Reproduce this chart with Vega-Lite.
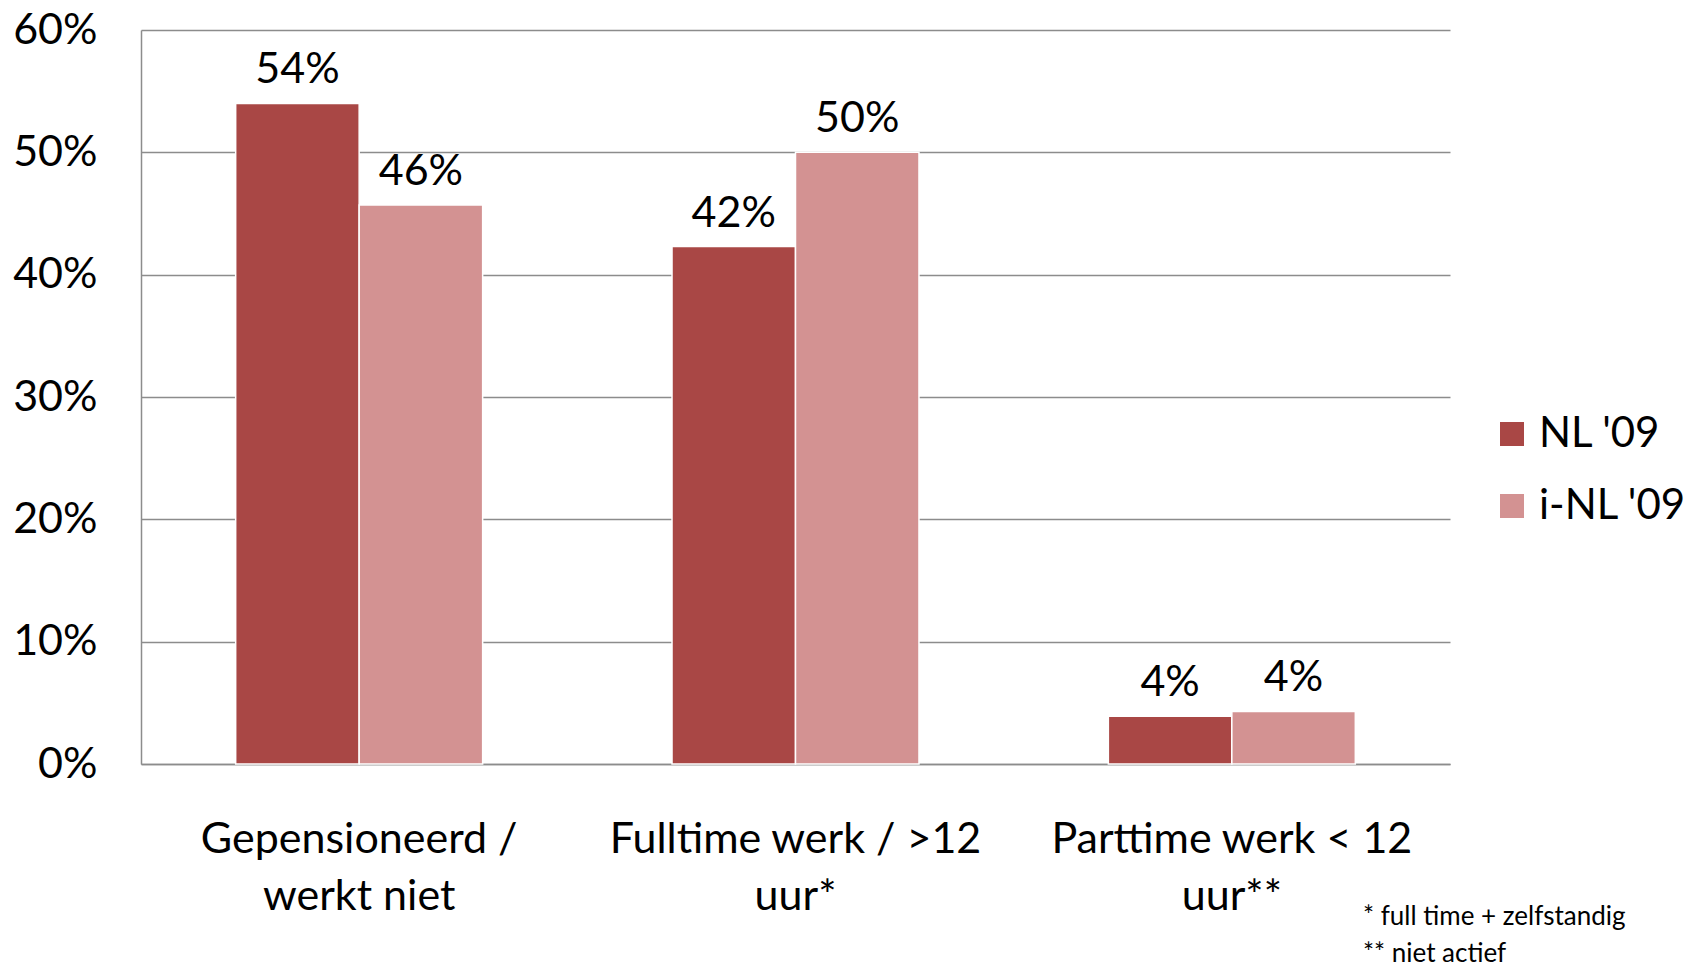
{
  "$schema": "https://vega.github.io/schema/vega-lite/v6.json",
  "autosize": {"type": "none"},
  "width": 1309,
  "height": 734,
  "padding": {"left": 141, "top": 30, "right": 237, "bottom": 203},
  "background": "white",
  "config": {
    "view": {"stroke": null},
    "font": "Lato",
    "text": {"font": "Lato"}
  },
  "title": {
    "text": ["* full time + zelfstandig", "** niet actief"],
    "orient": "bottom",
    "anchor": "start",
    "align": "left",
    "frame": "group",
    "dx": 1222,
    "offset": -14,
    "font": "Lato",
    "fontSize": 26,
    "fontWeight": "normal",
    "lineHeight": 37,
    "color": "black"
  },
  "data": {
    "values": [
      {"cat": "Gepensioneerd /|werkt niet", "serie": "NL '09", "value": 54.0, "label": "54%"},
      {"cat": "Gepensioneerd /|werkt niet", "serie": "i-NL '09", "value": 45.7, "label": "46%"},
      {"cat": "Fulltime werk / >12|uur*", "serie": "NL '09", "value": 42.3, "label": "42%"},
      {"cat": "Fulltime werk / >12|uur*", "serie": "i-NL '09", "value": 50.0, "label": "50%"},
      {"cat": "Parttime werk < 12|uur**", "serie": "NL '09", "value": 3.9, "label": "4%"},
      {"cat": "Parttime werk < 12|uur**", "serie": "i-NL '09", "value": 4.3, "label": "4%"}
    ]
  },
  "encoding": {
    "x": {
      "field": "cat",
      "type": "nominal",
      "sort": null,
      "scale": {"paddingInner": 0.434, "paddingOuter": 0.217},
      "axis": {
        "title": null,
        "labelAngle": 0,
        "labelExpr": "split(datum.label, '|')",
        "labelLimit": 0,
        "labelFont": "Lato",
        "labelFontSize": 43,
        "labelColor": "black",
        "labelPadding": 75,
        "labelLineHeight": 57,
        "labelBaseline": "middle",
        "ticks": false,
        "domainColor": "#8c8c8c",
        "domainWidth": 1.5,
        "grid": false
      }
    },
    "xOffset": {"field": "serie", "type": "nominal", "sort": ["NL '09", "i-NL '09"]},
    "y": {
      "field": "value",
      "type": "quantitative",
      "scale": {"domain": [0, 60], "nice": false},
      "axis": {
        "title": null,
        "values": [0, 10, 20, 30, 40, 50, 60],
        "labelExpr": "datum.value + '%'",
        "labelFont": "Lato",
        "labelFontSize": 43,
        "labelColor": "black",
        "labelPadding": 44,
        "ticks": false,
        "domainColor": "#8c8c8c",
        "domainWidth": 1.5,
        "gridColor": "#8c8c8c",
        "gridWidth": 1.5
      }
    }
  },
  "layer": [
    {
      "mark": {"type": "bar", "stroke": "white", "strokeWidth": 1.5},
      "encoding": {
        "color": {
          "field": "serie",
          "type": "nominal",
          "sort": ["NL '09", "i-NL '09"],
          "scale": {"domain": ["NL '09", "i-NL '09"], "range": ["#A94745", "#D39292"]},
          "legend": {
            "title": null,
            "orient": "none",
            "legendX": 1350,
            "legendY": 383,
            "symbolType": "square",
            "symbolSize": 576,
            "symbolStrokeWidth": 0,
            "labelFont": "Lato",
            "labelFontSize": 42,
            "labelColor": "black",
            "labelOffset": 6,
            "labelLimit": 0,
            "rowPadding": 30
          }
        }
      }
    },
    {
      "mark": {"type": "text", "baseline": "alphabetic", "dy": -20, "font": "Lato", "fontSize": 43, "color": "black"},
      "encoding": {"text": {"field": "label"}}
    }
  ]
}
